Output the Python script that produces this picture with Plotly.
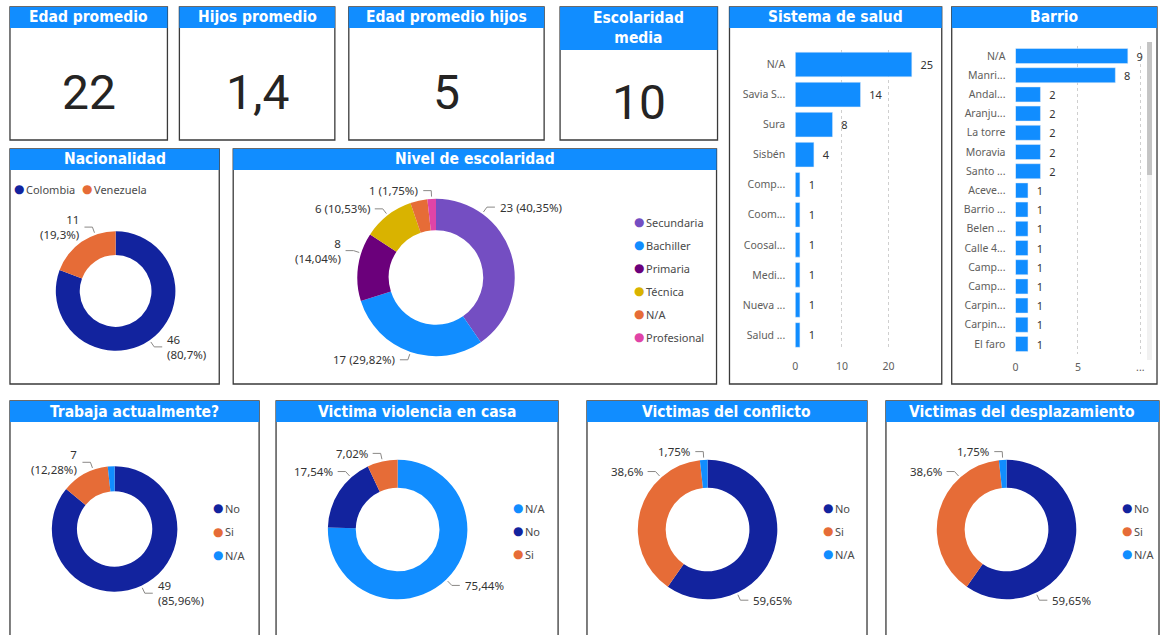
import math
import plotly.graph_objects as go

W, H = 1161, 635

# ---------------- DATA ----------------
kpi_titles = ["Edad promedio", "Hijos promedio", "Edad promedio hijos", "Escolaridad<br>media"]
kpi_values = ["22", "1,4", "5", "10"]

salud_labels = ["N/A", "Savia S...", "Sura", "Sisbén", "Comp...", "Coom...",
                "Coosal...", "Medi...", "Nueva ...", "Salud ..."]
salud_values = [25, 14, 8, 4, 1, 1, 1, 1, 1, 1]

barrio_labels = ["N/A", "Manri...", "Andal...", "Aranju...", "La torre", "Moravia",
                 "Santo ...", "Aceve...", "Barrio ...", "Belen ...", "Calle 4...",
                 "Camp...", "Camp...", "Carpin...", "Carpin...", "El faro"]
barrio_values = [9, 8, 2, 2, 2, 2, 2, 1, 1, 1, 1, 1, 1, 1, 1, 1]

nacionalidad_labels = ["Colombia", "Venezuela"]
nacionalidad_values = [46, 11]

escolaridad_labels = ["Secundaria", "Bachiller", "Primaria", "Técnica", "N/A", "Profesional"]
escolaridad_values = [23, 17, 8, 6, 2, 1]

trabaja_labels = ["No", "Si", "N/A"]
trabaja_values = [49, 7, 1]

violencia_labels = ["N/A", "No", "Si"]
violencia_values = [43, 10, 4]

conflicto_labels = ["No", "Si", "N/A"]
conflicto_values = [34, 22, 1]

desplazamiento_labels = ["No", "Si", "N/A"]
desplazamiento_values = [34, 22, 1]

# ---------------- STYLE ----------------
BLUE = "#118DFF"
NAVY = "#12239E"
ORANGE = "#E66C37"
PURPLE = "#744EC2"
DPURPLE = "#6B007B"
GOLD = "#D9B300"
PINK = "#E044A7"
COLORS = {"Colombia": NAVY, "Venezuela": ORANGE, "Secundaria": PURPLE, "Bachiller": BLUE,
          "Primaria": DPURPLE, "Técnica": GOLD, "N/A": ORANGE, "Profesional": PINK}
YN_COLORS = {"No": NAVY, "Si": ORANGE, "N/A": BLUE}

TITLE_FONT = "DejaVu Sans Condensed, Liberation Sans Narrow, DejaVu Sans"
VALUE_FONT = "Roboto, DejaVu Sans"
TEXT_FONT = "Noto Sans, Open Sans, sans-serif"
LABEL_COLOR = "#333333"
AXIS_COLOR = "#605E5C"
LEGEND_COLOR = "#4a4a4a"


def px_x(x):
    return x / W


def px_y(y):
    return 1 - y / H


fig = go.Figure()
shapes = []
annotations = []


def panel(x0, x1, y0, y1, title, bar_h=21, size=15.5):
    shapes.append(dict(type="rect", xref="paper", yref="paper", x0=px_x(x0), x1=px_x(x1),
                       y0=px_y(y1), y1=px_y(y0), line=dict(color="#3a3a3a", width=1.3),
                       fillcolor="white", layer="below"))
    shapes.append(dict(type="rect", xref="paper", yref="paper", x0=px_x(x0), x1=px_x(x1),
                       y0=px_y(y0 + bar_h), y1=px_y(y0), line=dict(width=0),
                       fillcolor=BLUE, layer="below"))
    annotations.append(dict(text=f"<b>{title}</b>", x=px_x((x0 + x1) / 2), y=px_y(y0 + bar_h / 2),
                            xref="paper", yref="paper", xanchor="center", yanchor="middle",
                            showarrow=False,
                            font=dict(family=TITLE_FONT, size=size, color="white")))


def pct(v, total):
    s = f"{v / total * 100:.2f}".rstrip("0").rstrip(".")
    return s.replace(".", ",") + "%"


def donut(cx, cy, r, labels, values, colors, fmt, hide=(), wrap=(), angle_override=None):
    fig.add_trace(go.Pie(labels=labels, values=values, hole=0.6, sort=False,
                         direction="clockwise", rotation=0,
                         marker=dict(colors=[colors[l] for l in labels], line=dict(width=0)),
                         textinfo="none", showlegend=False,
                         domain=dict(x=[px_x(cx - r), px_x(cx + r)],
                                     y=[px_y(cy + r), px_y(cy - r)])))
    total = sum(values)
    cum = 0
    angle_override = angle_override or {}
    for lab, v in zip(labels, values):
        mid = (cum + v / 2) / total * 360
        cum += v
        if lab in hide:
            continue
        ang = math.radians(angle_override.get(lab, mid))
        s, c = math.sin(ang), math.cos(ang)
        side = 1 if s >= 0 else -1
        p0 = (cx + (r + 2) * s, cy - (r + 2) * c)
        p1 = (cx + (r + 8) * s, cy - (r + 8) * c)
        p2 = (p1[0] + 8 * side, p1[1])
        shapes.append(dict(type="path", xref="paper", yref="paper",
                           path=f"M {px_x(p0[0])},{px_y(p0[1])} L {px_x(p1[0])},{px_y(p1[1])} "
                                f"L {px_x(p2[0])},{px_y(p2[1])}",
                           line=dict(color="#8a8886", width=1)))
        p = pct(v, total)
        if fmt == "p":
            txt = p
        elif lab in wrap:
            txt = f"{v}<br>({p})"
        else:
            txt = f"{v} ({p})"
        annotations.append(dict(text=txt, x=px_x(p2[0] + 3 * side), y=px_y(p2[1]),
                                xref="paper", yref="paper",
                                xanchor="left" if side > 0 else "right", yanchor="middle",
                                align="left" if side > 0 else "right", showarrow=False,
                                font=dict(family=TEXT_FONT, size=11.5, color=LABEL_COLOR)))


def legend_item(xdot, y, lab, color):
    annotations.append(dict(text="●", x=px_x(xdot), y=px_y(y), xref="paper", yref="paper",
                            xanchor="center", yanchor="middle", showarrow=False,
                            font=dict(family="DejaVu Sans", size=12, color=color)))
    annotations.append(dict(text=lab, x=px_x(xdot + 5), y=px_y(y), xref="paper", yref="paper",
                            xanchor="left", yanchor="middle", showarrow=False,
                            font=dict(family=TEXT_FONT, size=11, color=LEGEND_COLOR)))


def vlegend(xdot, ytop, step, labels, colors):
    for i, lab in enumerate(labels):
        legend_item(xdot, ytop + i * step, lab, colors[lab])


# ---------------- KPI CARDS ----------------
kpi_boxes = [(7, 165, 21), (177, 333, 21), (347, 543, 21), (559, 717, 43)]
for (x0, x1, bh), t, v in zip(kpi_boxes, kpi_titles, kpi_values):
    panel(x0, x1, 7, 140, t, bar_h=bh, size=15.5)
    ymid = 92.5 if bh < 30 else 102
    annotations.append(dict(text=v, x=px_x((x0 + x1) / 2), y=px_y(ymid), xref="paper", yref="paper",
                            xanchor="center", yanchor="middle", showarrow=False,
                            font=dict(family=VALUE_FONT, size=48, color="#252423")))

# ---------------- BAR PANELS ----------------
panel(729, 942, 7, 384, "Sistema de salud")
panel(952, 1158, 7, 384, "Barrio")

fig.add_trace(go.Bar(x=salud_values, y=list(range(len(salud_labels))), orientation="h",
                     marker_color=BLUE, width=0.82, texttemplate="\u00a0\u00a0%{x}",
                     textposition="outside", cliponaxis=False, constraintext="none",
                     textfont=dict(family=TEXT_FONT, size=11, color=LABEL_COLOR),
                     xaxis="x", yaxis="y", showlegend=False))
fig.add_trace(go.Bar(x=barrio_values, y=list(range(len(barrio_labels))), orientation="h",
                     marker_color=BLUE, width=0.78, texttemplate="\u00a0\u00a0%{x}",
                     textposition="outside", cliponaxis=False, constraintext="none",
                     textfont=dict(family=TEXT_FONT, size=11, color=LABEL_COLOR),
                     xaxis="x2", yaxis="y2", showlegend=False))

axis_font = dict(family=TEXT_FONT, size=10.5, color=AXIS_COLOR)
xcommon = dict(showgrid=True, griddash="dot", gridcolor="#cfcfcf", gridwidth=1, zeroline=False,
               showline=False, tickfont=axis_font, ticks="", fixedrange=True)
ycommon = dict(showgrid=False, zeroline=False, showline=False, tickfont=axis_font, ticks="",
               fixedrange=True)

# scrollbar for Barrio
shapes.append(dict(type="rect", xref="paper", yref="paper", x0=px_x(1148), x1=px_x(1153),
                   y0=px_y(360), y1=px_y(42), line=dict(width=0), fillcolor="#f1f1f1", layer="below"))
shapes.append(dict(type="rect", xref="paper", yref="paper", x0=px_x(1148), x1=px_x(1153),
                   y0=px_y(175), y1=px_y(42), line=dict(width=0), fillcolor="#c4c4c4", layer="below"))

# ---------------- DONUT PANELS ----------------
panel(7, 217, 149, 384, "Nacionalidad")
donut(113, 291, 60, nacionalidad_labels, nacionalidad_values, COLORS, "vp",
      wrap=("Colombia", "Venezuela"), angle_override={"Venezuela": 340})
for xdot, lab in zip([16, 84], nacionalidad_labels):
    legend_item(xdot, 189, lab, COLORS[lab])

panel(231, 716, 149, 384, "Nivel de escolaridad")
donut(434.5, 277.5, 79, escolaridad_labels, escolaridad_values, COLORS, "vp",
      hide=("N/A",), wrap=("Primaria",), angle_override={"Secundaria": 36, "Primaria": 288})
vlegend(638, 222, 23, escolaridad_labels, COLORS)

panel(7, 257, 401, 660, "Trabaja actualmente?")
donut(112, 529, 63, trabaja_labels, trabaja_values, YN_COLORS, "vp",
      hide=("N/A",), wrap=("No", "Si"), angle_override={"Si": 340})
vlegend(216, 508, 23.5, trabaja_labels, YN_COLORS)

panel(274, 557, 401, 660, "Victima violencia en casa")
donut(396, 529.5, 70, violencia_labels, violencia_values, YN_COLORS, "p",
      angle_override={"No": 318})
vlegend(517, 508, 23, violencia_labels, YN_COLORS)

panel(586, 867, 401, 660, "Victimas del conflicto")
donut(707, 529.5, 70, conflicto_labels, conflicto_values, YN_COLORS, "p",
      angle_override={"No": 155, "Si": 318})
vlegend(828, 508, 23, conflicto_labels, YN_COLORS)

panel(886, 1160, 401, 660, "Victimas del desplazamiento")
donut(1007, 529.5, 70, desplazamiento_labels, desplazamiento_values, YN_COLORS, "p",
      angle_override={"No": 155, "Si": 318})
vlegend(1128, 508, 23, desplazamiento_labels, YN_COLORS)

fig.update_layout(
    width=W, height=H, margin=dict(l=0, r=0, t=0, b=0, pad=0),
    paper_bgcolor="white", plot_bgcolor="rgba(0,0,0,0)",
    showlegend=False, shapes=shapes, annotations=annotations,
    font=dict(family=TEXT_FONT),
    xaxis=dict(domain=[px_x(795), px_x(926)], range=[0, 28], tickvals=[0, 10, 20],
               anchor="y", ticklabelstandoff=8, **xcommon),
    yaxis=dict(domain=[px_y(350), px_y(49.5)], range=[len(salud_labels) - 0.5, -0.5],
               tickvals=list(range(len(salud_labels))), ticktext=salud_labels,
               anchor="x", ticklabelstandoff=9, **ycommon),
    xaxis2=dict(domain=[px_x(1016), px_x(1145)], range=[0, 10.3], tickvals=[0, 5, 10],
                ticktext=["0", "5", "..."], anchor="y2", ticklabelstandoff=6, **xcommon),
    yaxis2=dict(domain=[px_y(353.6), px_y(46.4)], range=[len(barrio_labels) - 0.5, -0.5],
                tickvals=list(range(len(barrio_labels))), ticktext=barrio_labels,
                anchor="x2", ticklabelstandoff=9, **ycommon),
)

fig.write_html("out.html", config={"displayModeBar": False},
               post_script="document.body.style.margin='0';document.body.style.overflow='hidden';")
